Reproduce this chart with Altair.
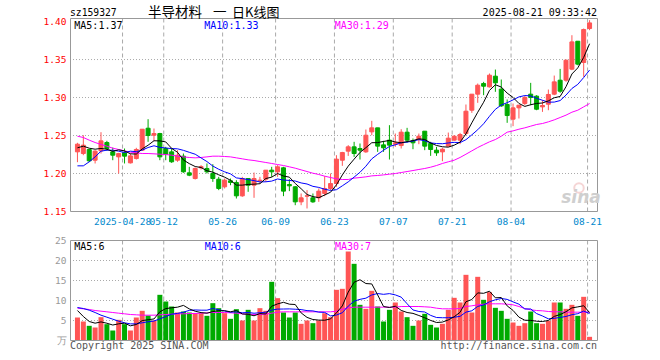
import altair as alt
import pandas as pd

# ---------------- data ----------------
tick_idx = [8, 15, 25, 34, 44, 54, 64, 74, 87]
tick_labels = ["2025-04-28", "05-12", "05-26", "06-09", "06-23",
               "07-07", "07-21", "08-04", "08-21"]

price_ticks = [1.15, 1.20, 1.25, 1.30, 1.35, 1.40]
price_grid = [1.20, 1.25, 1.30, 1.35]
vol_ticks = [0, 5, 10, 15, 20, 25]
vol_grid = [5, 10, 15, 20]

opens = [
    1.2285, 1.2263, 1.2316, 1.2175, 1.2298, 1.2408, 1.2285, 1.2219, 1.2272, 1.2140,
    1.2197, 1.2307, 1.2596, 1.2504, 1.2526, 1.2329, 1.2285, 1.2175, 1.2228, 1.2009,
    1.1934, 1.2075, 1.2066, 1.2000, 1.1925, 1.1825, 1.1904, 1.1882, 1.1706, 1.1934,
    1.1846, 1.1904, 1.1925, 1.2044, 1.2022, 1.2075, 1.1855, 1.1825, 1.1627, 1.1702,
    1.1680, 1.1680, 1.1737, 1.1803, 1.1868, 1.2175, 1.2294, 1.2351, 1.2329, 1.2285,
    1.2548, 1.2601, 1.2377, 1.2439, 1.2386, 1.2368, 1.2544, 1.2430, 1.2447, 1.2557,
    1.2395, 1.2307, 1.2285, 1.2360, 1.2439, 1.2439, 1.2526, 1.2833, 1.3044, 1.3184,
    1.3140, 1.3281, 1.3110, 1.2908, 1.2715, 1.2864, 1.2921, 1.3044, 1.3018, 1.2877,
    1.2912, 1.3044, 1.3228, 1.3228, 1.3373, 1.3741, 1.3461, 1.3908]
highs = [
    1.2404, 1.2504, 1.2325, 1.2307, 1.2544, 1.2430, 1.2342, 1.2272, 1.2329, 1.2263,
    1.2338, 1.2583, 1.2715, 1.2592, 1.2535, 1.2351, 1.2329, 1.2307, 1.2263, 1.2088,
    1.2079, 1.2110, 1.2132, 1.2123, 1.1956, 1.1934, 1.1934, 1.1912, 1.1956, 1.1934,
    1.2013, 1.1956, 1.2044, 1.2088, 1.2110, 1.2088, 1.1925, 1.1834, 1.1737, 1.1781,
    1.1737, 1.1803, 1.1965, 1.2000, 1.2241, 1.2285, 1.2373, 1.2417, 1.2395, 1.2579,
    1.2693, 1.2601, 1.2430, 1.2636, 1.2526, 1.2583, 1.2601, 1.2461, 1.2526, 1.2557,
    1.2417, 1.2351, 1.2338, 1.2539, 1.2504, 1.2535, 1.2908, 1.3044, 1.3184, 1.3206,
    1.3316, 1.3368, 1.3237, 1.2974, 1.2921, 1.2899, 1.3022, 1.3193, 1.3031, 1.2965,
    1.3105, 1.3289, 1.3377, 1.3500, 1.3820, 1.3741, 1.3908, 1.4018]
lows = [
    1.2149, 1.2241, 1.2150, 1.2132, 1.2263, 1.2298, 1.2175, 1.2000, 1.2132, 1.2132,
    1.2184, 1.2298, 1.2417, 1.2430, 1.2175, 1.2175, 1.2140, 1.2154, 1.2009, 1.1965,
    1.1921, 1.2053, 1.2000, 1.1890, 1.1781, 1.1803, 1.1846, 1.1671, 1.1693, 1.1759,
    1.1680, 1.1868, 1.1890, 1.1956, 1.1956, 1.1702, 1.1768, 1.1583, 1.1583, 1.1540,
    1.1614, 1.1627, 1.1702, 1.1781, 1.1825, 1.2101, 1.2232, 1.2219, 1.2184, 1.2272,
    1.2504, 1.2285, 1.2285, 1.2184, 1.2351, 1.2329, 1.2404, 1.2320, 1.2386, 1.2307,
    1.2232, 1.2232, 1.2162, 1.2360, 1.2430, 1.2386, 1.2504, 1.2798, 1.2930, 1.3031,
    1.3132, 1.3075, 1.2877, 1.2667, 1.2623, 1.2724, 1.2899, 1.2899, 1.2833, 1.2811,
    1.2833, 1.3031, 1.3061, 1.3206, 1.3360, 1.3425, 1.3272, 1.3886]
closes = [
    1.2386, 1.2373, 1.2167, 1.2294, 1.2430, 1.2329, 1.2241, 1.2263, 1.2228, 1.2232,
    1.2316, 1.2583, 1.2500, 1.2526, 1.2219, 1.2254, 1.2154, 1.2241, 1.2022, 1.1978,
    1.2066, 1.2090, 1.2022, 1.1934, 1.1803, 1.1912, 1.1882, 1.1706, 1.1934, 1.1846,
    1.1934, 1.1912, 1.2044, 1.2022, 1.2088, 1.1768, 1.1838, 1.1627, 1.1680, 1.1706,
    1.1627, 1.1768, 1.1803, 1.1868, 1.2189, 1.2276, 1.2351, 1.2263, 1.2307, 1.2504,
    1.2601, 1.2360, 1.2338, 1.2373, 1.2404, 1.2544, 1.2439, 1.2404, 1.2491, 1.2360,
    1.2316, 1.2272, 1.2320, 1.2465, 1.2491, 1.2513, 1.2820, 1.3044, 1.3162, 1.3149,
    1.3294, 1.3193, 1.2890, 1.2763, 1.2864, 1.2899, 1.3000, 1.3000, 1.2846, 1.2895,
    1.3040, 1.3206, 1.3083, 1.3491, 1.3732, 1.3439, 1.3895, 1.3982]
ma5 = [
    1.2338, 1.2360, 1.2333, 1.2320, 1.2330, 1.2319, 1.2292, 1.2311, 1.2298, 1.2259,
    1.2256, 1.2324, 1.2372, 1.2431, 1.2429, 1.2416, 1.2331, 1.2279, 1.2178, 1.2130,
    1.2092, 1.2079, 1.2036, 1.2018, 1.1983, 1.1952, 1.1911, 1.1847, 1.1847, 1.1856,
    1.1860, 1.1866, 1.1934, 1.1952, 1.2000, 1.1967, 1.1952, 1.1869, 1.1800, 1.1724,
    1.1696, 1.1682, 1.1717, 1.1754, 1.1851, 1.1981, 1.2097, 1.2189, 1.2277, 1.2340,
    1.2405, 1.2407, 1.2422, 1.2435, 1.2415, 1.2404, 1.2420, 1.2433, 1.2456, 1.2448,
    1.2402, 1.2369, 1.2352, 1.2347, 1.2373, 1.2412, 1.2522, 1.2667, 1.2806, 1.2938,
    1.3094, 1.3168, 1.3138, 1.3058, 1.3001, 1.2922, 1.2883, 1.2905, 1.2922, 1.2928,
    1.2956, 1.2997, 1.3014, 1.3143, 1.3310, 1.3390, 1.3528, 1.3708]
ma10 = [
    1.2101, 1.2101, 1.2154, 1.2219, 1.2294, 1.2307, 1.2307, 1.2294, 1.2276, 1.2294,
    1.2287, 1.2308, 1.2342, 1.2365, 1.2344, 1.2336, 1.2328, 1.2325, 1.2305, 1.2279,
    1.2254, 1.2205, 1.2157, 1.2098, 1.2056, 1.2022, 1.1995, 1.1942, 1.1933, 1.1920,
    1.1906, 1.1889, 1.1891, 1.1900, 1.1928, 1.1914, 1.1909, 1.1901, 1.1876, 1.1862,
    1.1831, 1.1817, 1.1793, 1.1777, 1.1787, 1.1838, 1.1890, 1.1953, 1.2016, 1.2096,
    1.2193, 1.2252, 1.2306, 1.2356, 1.2378, 1.2405, 1.2413, 1.2427, 1.2446, 1.2431,
    1.2403, 1.2394, 1.2392, 1.2402, 1.2410, 1.2407, 1.2445, 1.2509, 1.2576, 1.2655,
    1.2753, 1.2845, 1.2902, 1.2932, 1.2969, 1.3008, 1.3026, 1.3021, 1.2990, 1.2964,
    1.2939, 1.2940, 1.2960, 1.3032, 1.3119, 1.3173, 1.3263, 1.3361]
ma30 = [
    1.2491, 1.2474, 1.2439, 1.2408, 1.2382, 1.2360, 1.2333, 1.2316, 1.2298, 1.2281,
    1.2272, 1.2263, 1.2263, 1.2259, 1.2254, 1.2250, 1.2241, 1.2228, 1.2219, 1.2211,
    1.2206, 1.2211, 1.2219, 1.2228, 1.2228, 1.2224, 1.2219, 1.2206, 1.2193, 1.2180,
    1.2171, 1.2158, 1.2145, 1.2132, 1.2118, 1.2105, 1.2088, 1.2070, 1.2048, 1.2026,
    1.2004, 1.1987, 1.1965, 1.1947, 1.1930, 1.1921, 1.1921, 1.1939, 1.1947, 1.1956,
    1.1969, 1.1974, 1.1982, 1.1991, 1.2000, 1.2013, 1.2026, 1.2039, 1.2053, 1.2066,
    1.2083, 1.2105, 1.2132, 1.2154, 1.2175, 1.2211, 1.2254, 1.2298, 1.2342, 1.2380,
    1.2417, 1.2447, 1.2491, 1.2544, 1.2561, 1.2583, 1.2601, 1.2623, 1.2645, 1.2658,
    1.2680, 1.2706, 1.2737, 1.2768, 1.2807, 1.2833, 1.2877, 1.2921]
vols = [
    5.75, 4.75, 3.67, 3.25, 5.83, 4.08, 2.50, 5.17, 4.08, 2.50,
    5.75, 7.42, 6.25, 5.00, 11.42, 9.75, 8.50, 7.00, 7.25, 7.00,
    6.83, 6.83, 6.17, 9.33, 8.08, 6.83, 5.42, 7.83, 5.00, 7.67,
    5.00, 8.08, 7.42, 14.67, 10.58, 7.00, 5.75, 7.00, 4.17, 5.00,
    4.33, 5.00, 6.83, 5.83, 12.67, 12.92, 22.25, 19.17, 8.92, 7.92,
    12.42, 8.50, 4.75, 7.67, 9.50, 7.25, 5.83, 3.67, 5.00, 6.67,
    3.92, 3.25, 4.17, 7.67, 10.67, 9.50, 16.42, 7.00, 15.92, 10.17,
    12.08, 8.17, 7.42, 5.42, 4.50, 3.67, 4.33, 7.25, 4.33, 4.17,
    4.92, 9.50, 9.50, 7.92, 8.92, 6.17, 10.92, 0.92]
vma5 = [
    7.50, 6.00, 4.75, 4.33, 4.65, 4.32, 3.87, 4.17, 4.33, 3.67,
    4.00, 4.98, 5.20, 5.38, 7.17, 7.97, 8.18, 8.33, 8.78, 7.90,
    7.32, 6.98, 6.82, 7.23, 7.45, 7.45, 7.17, 7.50, 6.63, 6.55,
    6.18, 6.72, 6.63, 8.57, 9.15, 9.55, 9.08, 9.00, 6.90, 5.78,
    5.25, 5.10, 5.07, 5.40, 6.93, 8.65, 12.10, 14.57, 15.19, 14.24,
    14.14, 11.39, 8.50, 8.25, 8.57, 7.53, 7.00, 6.78, 6.25, 5.68,
    5.02, 4.50, 4.60, 5.14, 5.94, 7.05, 9.69, 10.25, 11.90, 11.80,
    12.32, 10.67, 10.75, 8.65, 7.52, 5.84, 5.07, 5.03, 4.82, 4.75,
    5.00, 6.03, 6.48, 7.20, 8.15, 8.40, 8.69, 6.97]
vma10 = [
    8.25, 8.00, 7.58, 7.00, 6.33, 5.83, 5.33, 4.83, 4.42, 4.16,
    4.16, 4.43, 4.68, 4.86, 5.42, 5.98, 6.58, 6.77, 7.08, 7.53,
    7.64, 7.58, 7.58, 8.01, 7.67, 7.38, 7.07, 7.16, 6.93, 7.00,
    6.82, 6.94, 7.07, 7.60, 7.85, 7.87, 7.90, 7.82, 7.73, 7.47,
    7.40, 7.09, 7.03, 6.15, 6.36, 6.95, 8.60, 9.82, 10.29, 10.58,
    11.39, 11.74, 11.54, 11.72, 11.40, 10.84, 9.19, 7.64, 7.25, 7.13,
    6.28, 5.75, 5.69, 5.69, 5.81, 6.04, 7.09, 7.43, 8.52, 8.87,
    9.69, 10.18, 10.50, 10.28, 9.66, 9.08, 7.87, 7.89, 6.73, 6.13,
    5.42, 5.55, 5.76, 6.01, 6.45, 6.70, 7.36, 6.73]
vma30 = [
    8.08, 7.92, 7.75, 7.50, 7.33, 7.17, 7.00, 6.83, 6.67, 6.50,
    6.42, 6.33, 6.33, 6.33, 6.42, 6.50, 6.58, 6.67, 6.67, 6.75,
    6.75, 6.83, 6.92, 7.00, 7.00, 7.00, 6.92, 6.83, 6.67, 6.58,
    6.50, 6.50, 6.58, 6.83, 7.08, 7.17, 7.17, 7.17, 7.17, 7.17,
    7.17, 7.17, 7.17, 7.17, 7.33, 7.83, 8.17, 8.33, 8.33, 8.33,
    8.33, 8.33, 8.33, 8.33, 8.33, 8.50, 8.50, 8.50, 8.50, 8.42,
    8.33, 8.08, 7.92, 7.92, 7.92, 8.00, 8.50, 8.67, 8.92, 9.08,
    9.17, 9.17, 9.17, 9.08, 8.92, 8.50, 8.00, 7.67, 7.50, 7.42,
    7.25, 7.17, 7.17, 7.08, 7.08, 7.08, 7.08, 7.08]

# ---------------- styling ----------------
RED = "#ff5555"
GREEN = "#00aa00"
MONO = "DejaVu Sans Mono"
CJK = "Noto Sans CJK SC"
W, H = 528, 323

n = len(closes)
df = pd.DataFrame({
    "i": list(range(n)), "open": opens, "high": highs, "low": lows,
    "close": closes, "vol": vols, "ma5": ma5, "ma10": ma10, "ma30": ma30,
    "vma5": vma5, "vma10": vma10, "vma30": vma30,
})
df["dir"] = ["up" if c >= o else "down" for o, c in zip(opens, closes)]

x0 = -2.5 / 6
xscale = alt.Scale(domain=[x0, x0 + 88], nice=False, zero=False)
pscale = alt.Scale(domain=[1.15, 1.404], range=[193.5, 0.5], nice=False, zero=False)
vscale = alt.Scale(domain=[0, 25], range=[322.5, 222.5], nice=False, zero=False)
cscale = alt.Scale(domain=["up", "down"], range=[RED, GREEN])

paxis = alt.Axis(values=price_ticks, format=".2f", orient="left", domain=False, ticks=False,
                 grid=False, labelColor="#ff0000", labelFont=MONO, labelFontSize=9.5,
                 labelPadding=4, labelOverlap=False, labelFlush=False, title=None)
vaxis = alt.Axis(values=vol_ticks, labelExpr="datum.value == 0 ? '万' : datum.label",
                 orient="left", domain=False, ticks=False, grid=False, labelColor="#999999",
                 labelFont=MONO, labelFontSize=9.5, labelPadding=4, labelOverlap=False,
                 labelFlush=False, title=None)

X = alt.X("i:Q", scale=xscale, axis=None)
color = alt.Color("dir:N", scale=cscale, legend=None)
base = alt.Chart(df)
one = pd.DataFrame({"a": [0]})
tdf = pd.DataFrame({"t": tick_idx, "lab": tick_labels})

# grids
pgrid = alt.Chart(pd.DataFrame({"v": price_grid})).mark_rule(
    color="#aaaaaa", strokeDash=[1, 2], strokeWidth=1).encode(
    y=alt.Y("v:Q", scale=pscale, axis=None), x=alt.value(0), x2=alt.value(W))
vgrid = alt.Chart(pd.DataFrame({"v": vol_grid})).mark_rule(
    color="#aaaaaa", strokeDash=[1, 2], strokeWidth=1).encode(
    y=alt.Y("v:Q", scale=vscale, axis=None), x=alt.value(0), x2=alt.value(W))
xgrid1 = alt.Chart(tdf).mark_rule(color="#aaaaaa", strokeDash=[4, 3], xOffset=-2).encode(
    x=alt.X("t:Q", scale=xscale, axis=None), y=alt.value(0.5), y2=alt.value(193.5))
xgrid2 = alt.Chart(tdf).mark_rule(color="#aaaaaa", strokeDash=[4, 3], xOffset=-2).encode(
    x=alt.X("t:Q", scale=xscale, axis=None), y=alt.value(222.5), y2=alt.value(322.5))
xlabels = alt.Chart(tdf).mark_text(font=MONO, fontSize=9.5, color="#0088cc",
                                   align="center", baseline="middle", dx=-2).encode(
    x=alt.X("t:Q", scale=xscale, axis=None), y=alt.value(203.5), text="lab:N")

# candles
wick = base.mark_rule(strokeWidth=1).encode(
    x=X, y=alt.Y("low:Q", scale=pscale, axis=paxis), y2="high:Q", color=color)
body = base.mark_bar(size=4, strokeWidth=1).encode(
    x=X, y=alt.Y("open:Q", scale=pscale, axis=None), y2="close:Q",
    color=color, stroke=alt.Stroke("dir:N", scale=cscale, legend=None))

def pline(field, col):
    return base.mark_line(color=col, strokeWidth=1).encode(
        x=X, y=alt.Y(f"{field}:Q", scale=pscale, axis=None))

def vline(field, col):
    return base.mark_line(color=col, strokeWidth=1).encode(
        x=X, y=alt.Y(f"{field}:Q", scale=vscale, axis=None))

vbars = base.mark_bar(size=5).encode(
    x=X, y=alt.Y("vol:Q", scale=vscale, axis=vaxis), color=color)

def frame(y1, y2):
    return alt.Chart(one).mark_rect(fillOpacity=0, stroke="#999999", strokeWidth=1).encode(
        x=alt.value(0.5), x2=alt.value(W - 0.5), y=alt.value(y1), y2=alt.value(y2))

def txt(text, x, y, col="#000000", size=10, align="left", font=MONO, **kw):
    return alt.Chart(one).mark_text(text=text, align=align, baseline="middle",
                                    font=font, fontSize=size, color=col, **kw).encode(
        x=alt.value(x), y=alt.value(y))

logo = alt.Chart(one).mark_point(shape="circle", filled=False, size=90,
                                 stroke="#f2c4c4", strokeWidth=2).encode(
    x=alt.value(509), y=alt.value(170))

texts = [
    txt("sz159327", 0, -4.7, size=9.7),
    txt("半导材料", 78, -5.5, size=13.5, font=CJK),
    txt("一", 143, -5.5, size=13.5, font=CJK),
    txt("日K线图", 162, -5.5, size=13, font=CJK),
    txt("2025-08-21 09:33:42", 527, -5.5, align="right"),
    txt("MA5:1.37", 4.3, 8),
    txt("MA10:1.33", 134.3, 8, col="#0000ff"),
    txt("MA30:1.29", 264.7, 8, col="#ff00ff"),
    txt("MA5:6", 4.3, 228.5),
    txt("MA10:6", 134.7, 228.5, col="#0000ff"),
    txt("MA30:7", 265, 228.5, col="#ff00ff"),
    txt("Copyright 2025 SINA.COM", 0, 328, col="#555555"),
    txt("http://finance.sina.com.cn", 527, 328, col="#555555", align="right"),
    txt("sina", 511, 180, col="#cfcfcf", size=17, align="center",
        font="DejaVu Sans", fontStyle="italic", fontWeight="bold"),
]

chart = alt.layer(
    pgrid, vgrid, xgrid1, xgrid2, logo,
    wick, body,
    pline("ma30", "#ff00ff"), pline("ma10", "#0000ff"), pline("ma5", "#000000"),
    vbars,
    vline("vma30", "#ff00ff"), vline("vma10", "#0000ff"), vline("vma5", "#000000"),
    frame(0.5, 193.5), frame(222.5, 322.5), xlabels,
    *texts,
).resolve_scale(y="independent").properties(
    width=W, height=H,
    autosize=alt.AutoSizeParams(type="none"),
    padding={"left": 70, "top": 18, "right": 62, "bottom": 19},
).configure_view(stroke=None)

chart.save("out.html", embed_options={"renderer": "svg", "actions": False})
